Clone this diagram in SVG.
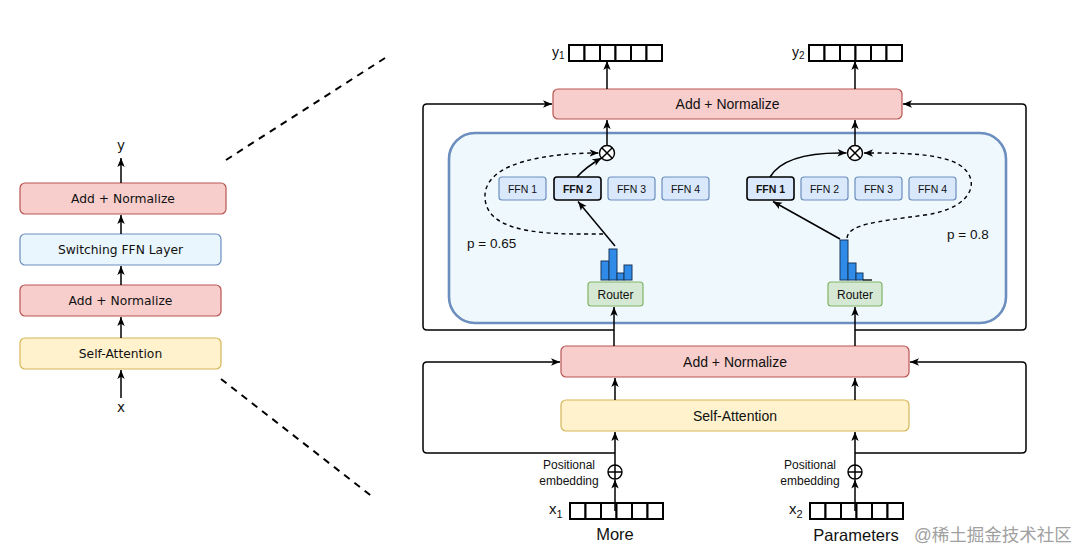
<svg xmlns="http://www.w3.org/2000/svg" width="1081" height="552" viewBox="0 0 1081 552">
<style>
.an{fill:#f8cecc;stroke:#b85450;stroke-width:1.2}
.sa{fill:#fff2cc;stroke:#d6b656;stroke-width:1.2}
.sw{fill:#eaf6fd;stroke:#6c8ebf;stroke-width:1.2}
.ffn{fill:#dae8fc;stroke:#6c8ebf;stroke-width:1.2}
.ffns{fill:#dae8fc;stroke:#000;stroke-width:1.6}
.rt{fill:#d5e8d4;stroke:#82b366;stroke-width:1.2}
.bar{fill:#2f8ae8;stroke:#16365c;stroke-width:1}
.tl{font-family:"DejaVu Sans",sans-serif;font-size:12.3px;fill:#111;text-anchor:middle}
.t{font-family:"Liberation Sans",Arial,sans-serif;fill:#111}
.c{text-anchor:middle}
.ln{fill:none;stroke:#000;stroke-width:1.5}
.lnA{fill:none;stroke:#000;stroke-width:1.5;marker-end:url(#arr)}
.dA{fill:none;stroke:#000;stroke-width:1.4;stroke-dasharray:4 3.5;marker-end:url(#arr)}
.zoom{fill:none;stroke:#000;stroke-width:2;stroke-dasharray:7 6}
.vec{fill:#fff;stroke:#000;stroke-width:2}
.op{fill:#fff;stroke:#000;stroke-width:1.4}
</style>
<defs>
<marker id="arr" viewBox="0 0 9 8" refX="9" refY="4" markerWidth="9" markerHeight="8" orient="auto" markerUnits="userSpaceOnUse">
<path d="M0,0.3 L9,4 L0,7.7 L2.3,4 z" fill="#000"/>
</marker>
<g id="cells">
<rect x="0" y="0" width="15.5" height="16" class="vec"/>
<rect x="15.5" y="0" width="15.5" height="16" class="vec"/>
<rect x="31" y="0" width="15.5" height="16" class="vec"/>
<rect x="46.5" y="0" width="15.5" height="16" class="vec"/>
<rect x="62" y="0" width="15.5" height="16" class="vec"/>
<rect x="77.5" y="0" width="15.5" height="16" class="vec"/>
</g>
</defs>
<rect width="1081" height="552" fill="#fff"/>

<!-- zoom lines -->
<g id="zoom-lines">
<line x1="226" y1="160" x2="385" y2="58" class="zoom"/>
<line x1="221" y1="379" x2="374" y2="498" class="zoom"/>
</g>

<!-- left panel -->
<g id="left-y"><text x="121" y="150" class="tl" style="font-size:13.5px">y</text></g>
<g id="left-an2"><rect x="20" y="183" width="206" height="31" rx="5" class="an"/><text x="123" y="203" class="tl">Add + Normalize</text></g>
<g id="left-switch"><rect x="20" y="234" width="201" height="31" rx="5" class="sw"/><text x="120.5" y="254" class="tl">Switching FFN Layer</text></g>
<g id="left-an1"><rect x="20" y="285" width="201" height="31" rx="5" class="an"/><text x="120.5" y="305" class="tl">Add + Normalize</text></g>
<g id="left-sa"><rect x="20" y="338" width="201" height="31" rx="5" class="sa"/><text x="120.5" y="358" class="tl">Self-Attention</text></g>
<g id="left-x"><text x="121" y="412" class="tl" style="font-size:13.5px">x</text></g>

<!-- right: outputs -->
<g id="y1"><use href="#cells" x="569" y="45"/><text x="552" y="57" class="t" font-size="14">y<tspan font-size="10" dy="2">1</tspan></text></g>
<g id="y2"><use href="#cells" x="809" y="45"/><text x="792" y="57" class="t" font-size="14">y<tspan font-size="10" dy="2">2</tspan></text></g>

<g id="top-an"><rect x="553" y="89" width="349" height="30" rx="5" class="an"/><text x="727.5" y="109" class="t c" font-size="14">Add + Normalize</text></g>

<g id="moe-region"><rect x="449" y="133" width="557" height="190" rx="26" fill="#eef8fd" stroke="#6c8ebf" stroke-width="2.6"/></g>

<g id="otimes1"><circle cx="607" cy="153" r="7.5" class="op"/><path d="M601.7,147.7 L612.3,158.3 M612.3,147.7 L601.7,158.3" class="ln" stroke-width="1.3"/></g>
<g id="otimes2"><circle cx="855" cy="153" r="7.5" class="op"/><path d="M849.7,147.7 L860.3,158.3 M860.3,147.7 L849.7,158.3" class="ln" stroke-width="1.3"/></g>

<g id="ffn-left">
<g id="ffnL1"><rect x="499" y="177" width="47" height="23" rx="3" class="ffn"/><text x="522.5" y="192.5" class="t c" font-size="10.5" fill="#222">FFN 1</text></g>
<g id="ffnL2"><rect x="554" y="177" width="47" height="23" rx="3" class="ffns"/><text x="577.5" y="192.5" class="t c" font-size="10.5" font-weight="bold">FFN 2</text></g>
<g id="ffnL3"><rect x="608" y="177" width="47" height="23" rx="3" class="ffn"/><text x="631.5" y="192.5" class="t c" font-size="10.5">FFN 3</text></g>
<g id="ffnL4"><rect x="662" y="177" width="47" height="23" rx="3" class="ffn"/><text x="685.5" y="192.5" class="t c" font-size="10.5">FFN 4</text></g>
</g>
<g id="ffn-right">
<g id="ffnR1"><rect x="747" y="177" width="47" height="23" rx="3" class="ffns"/><text x="770.5" y="192.5" class="t c" font-size="10.5" font-weight="bold">FFN 1</text></g>
<g id="ffnR2"><rect x="801" y="177" width="47" height="23" rx="3" class="ffn"/><text x="824.5" y="192.5" class="t c" font-size="10.5">FFN 2</text></g>
<g id="ffnR3"><rect x="855" y="177" width="47" height="23" rx="3" class="ffn"/><text x="878.5" y="192.5" class="t c" font-size="10.5">FFN 3</text></g>
<g id="ffnR4"><rect x="909" y="177" width="47" height="23" rx="3" class="ffn"/><text x="932.5" y="192.5" class="t c" font-size="10.5">FFN 4</text></g>
</g>

<g id="hist-left">
<rect x="601" y="261" width="8" height="19" class="bar"/>
<rect x="609" y="249" width="8" height="31" class="bar"/>
<rect x="617" y="273" width="7" height="7" class="bar"/>
<rect x="624" y="265" width="8" height="15" class="bar"/>
</g>
<g id="hist-right">
<rect x="840" y="240" width="8" height="40" class="bar"/>
<rect x="848" y="263" width="8" height="17" class="bar"/>
<rect x="856" y="273" width="7" height="7" class="bar"/>
<line x1="863" y1="280" x2="872" y2="280" stroke="#000" stroke-width="1.3"/>
</g>

<g id="router-left"><rect x="588" y="282" width="55" height="24" rx="3" class="rt"/><text x="615.5" y="298.5" class="t c" font-size="12">Router</text></g>
<g id="router-right"><rect x="828" y="282" width="54" height="24" rx="3" class="rt"/><text x="855" y="298.5" class="t c" font-size="12">Router</text></g>

<g id="p-left"><text x="467" y="248" class="t" font-size="13.5">p = 0.65</text></g>
<g id="p-right"><text x="947" y="239" class="t" font-size="13.5">p = 0.8</text></g>

<g id="bottom-an"><rect x="561" y="346" width="348" height="31" rx="5" class="an"/><text x="735" y="366.5" class="t c" font-size="14">Add + Normalize</text></g>
<g id="bottom-sa"><rect x="561" y="400" width="348" height="31" rx="5" class="sa"/><text x="735" y="420.5" class="t c" font-size="14">Self-Attention</text></g>

<g id="oplus1"><circle cx="615" cy="472" r="7" class="op"/><path d="M608,472 H622 M615,465 V479" class="ln" stroke-width="1.3"/></g>
<g id="oplus2"><circle cx="855" cy="472" r="7" class="op"/><path d="M848,472 H862 M855,465 V479" class="ln" stroke-width="1.3"/></g>

<g id="pos1"><text x="569" y="469" class="t c" font-size="12">Positional</text><text x="569" y="485" class="t c" font-size="12">embedding</text></g>
<g id="pos2"><text x="810" y="469" class="t c" font-size="12">Positional</text><text x="810" y="485" class="t c" font-size="12">embedding</text></g>

<g id="x1"><use href="#cells" x="570" y="503"/><text x="549" y="514" class="t" font-size="15">x<tspan font-size="11" dy="4">1</tspan></text></g>
<g id="x2"><use href="#cells" x="810" y="503"/><text x="789" y="514" class="t" font-size="15">x<tspan font-size="11" dy="4">2</tspan></text></g>

<g id="word-more"><text x="615" y="540" class="t c" font-size="16.5">More</text></g>
<g id="word-params"><text x="856" y="541" class="t c" font-size="16.5">Parameters</text></g>

<g id="watermark"><text x="914" y="541" font-family="'Liberation Sans','Noto Sans CJK SC',sans-serif" font-size="17.5" fill="#a0a0a0">@稀土掘金技术社区</text></g>

<!-- connectors -->
<g id="connectors">
<!-- left panel -->
<line x1="121" y1="183" x2="121" y2="158" class="lnA"/>
<line x1="121" y1="234" x2="121" y2="215" class="lnA"/>
<line x1="121" y1="285" x2="121" y2="266" class="lnA"/>
<line x1="121" y1="338" x2="121" y2="317" class="lnA"/>
<line x1="121" y1="398" x2="121" y2="370" class="lnA"/>
<!-- outputs -->
<line x1="607" y1="89" x2="607" y2="61" class="lnA"/>
<line x1="855" y1="89" x2="855" y2="61" class="lnA"/>
<line x1="607" y1="145.5" x2="607" y2="120" class="lnA"/>
<line x1="855" y1="145.5" x2="855" y2="120" class="lnA"/>
<!-- upper residual loops -->
<path d="M614,330 H427 Q423,330 423,326 V108 Q423,104 427,104 H552" class="lnA"/>
<path d="M855,330 H1022 Q1026,330 1026,326 V108 Q1026,104 1022,104 H903" class="lnA"/>
<!-- into routers -->
<line x1="614" y1="346" x2="614" y2="307" class="lnA"/>
<line x1="855" y1="346" x2="855" y2="307" class="lnA"/>
<!-- routing left -->
<line x1="615" y1="246" x2="578" y2="201.5" class="lnA"/>
<path d="M577,177 Q586,167 601.5,158" class="lnA"/>
<path d="M603,234 C560,234 487,237 485,198 C483,160 555,153 598.5,153" class="dA"/>
<!-- routing right -->
<line x1="840" y1="239" x2="773" y2="201.5" class="lnA"/>
<path d="M770,177 C780,160 805,152 846.5,153" class="lnA"/>
<path d="M847,238 C849,224 875,222 925,215 C975,208 982,178 958,164 C938,153 900,153 864,153" class="dA"/>
<!-- lower -->
<line x1="615" y1="400" x2="615" y2="378" class="lnA"/>
<line x1="855" y1="400" x2="855" y2="378" class="lnA"/>
<line x1="615" y1="465" x2="615" y2="432" class="lnA"/>
<line x1="855" y1="465" x2="855" y2="432" class="lnA"/>
<line x1="615" y1="511" x2="615" y2="479.5" class="lnA"/>
<line x1="855" y1="511" x2="855" y2="479.5" class="lnA"/>
<path d="M615,453 H427 Q423,453 423,449 V366 Q423,362 427,362 H560" class="lnA"/>
<path d="M855,453 H1022 Q1026,453 1026,449 V366 Q1026,362 1022,362 H910" class="lnA"/>
</g>
</svg>
